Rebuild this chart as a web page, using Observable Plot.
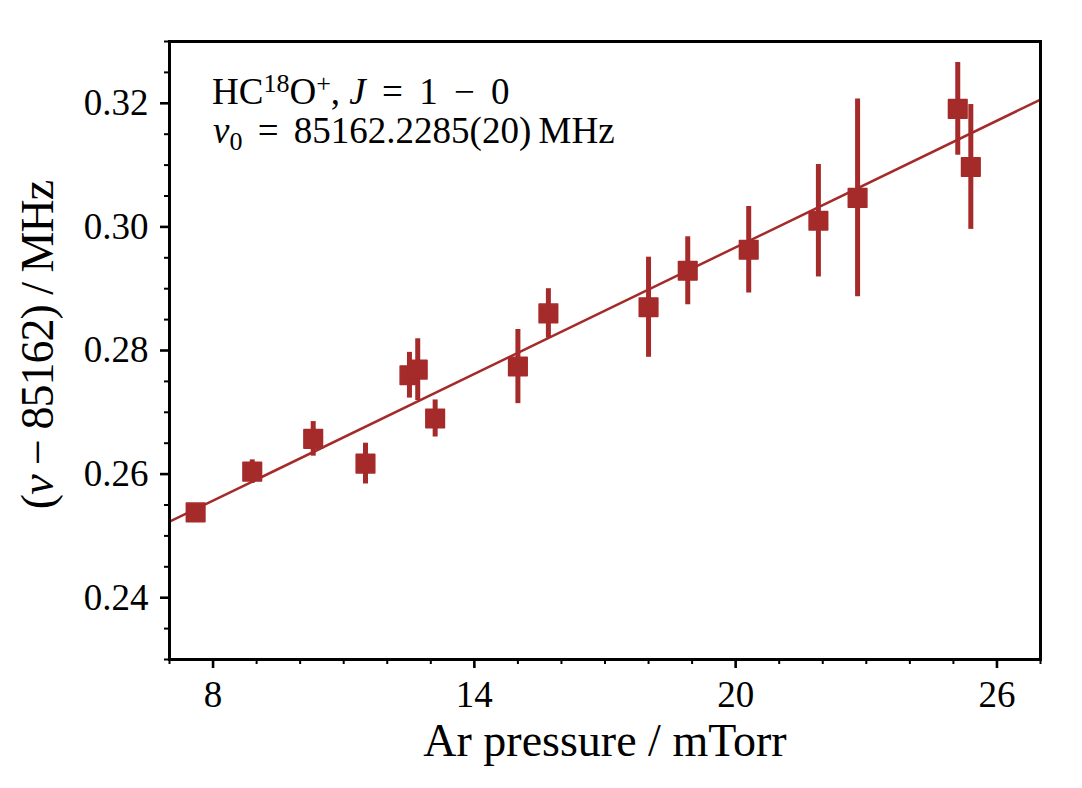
<!DOCTYPE html>
<html>
<head>
<meta charset="utf-8">
<script src="https://cdn.jsdelivr.net/npm/d3@7"></script>
<script src="https://cdn.jsdelivr.net/npm/@observablehq/plot@0.6"></script>
<style>
  html, body { margin: 0; padding: 0; background: white; }
</style>
</head>
<body>
<div id="chart"></div>
<script>
// Data
const pressure = [7.60, 8.90, 10.30, 11.50, 12.51, 12.70, 13.10, 15.00, 15.70, 18.00, 18.90, 20.30, 21.90, 22.80, 25.10, 25.40];
const shift    = [0.2538, 0.2604, 0.2657, 0.2617, 0.2760, 0.2769, 0.2690, 0.2774, 0.2860, 0.2870, 0.2929, 0.2963, 0.3010, 0.3047, 0.3191, 0.3097];
const err      = [0.0012, 0.0019, 0.0028, 0.0033, 0.0037, 0.0050, 0.0030, 0.0060, 0.0040, 0.0081, 0.0055, 0.0070, 0.0091, 0.0160, 0.0075, 0.0101];

// Fitted line endpoints (read at the frame edges)
const fitX = [7, 27];
const fitY = [0.2523, 0.3206];

// Ticks
const xMajor = [8, 14, 20, 26];
const xMinor = [7, 9, 10, 11, 12, 13, 15, 16, 17, 18, 19, 21, 22, 23, 24, 25, 27];
const yMajor = [0.24, 0.26, 0.28, 0.30, 0.32];
const yMinor = [0.23, 0.235, 0.245, 0.25, 0.255, 0.265, 0.27, 0.275, 0.285, 0.29, 0.295, 0.305, 0.31, 0.315, 0.325, 0.33];

const points = pressure.map((p, i) => ({p, v: shift[i], lo: shift[i] - err[i], hi: shift[i] + err[i]}));
const fit = fitX.map((x, i) => ({x, y: fitY[i]}));

const color = "#a52a2a";
const font = "Liberation Serif, Times New Roman, serif";

const chart = Plot.plot({
  width: 1082,
  height: 788,
  marginLeft: 169,
  marginRight: 42,
  marginTop: 41,
  marginBottom: 129,
  style: {fontFamily: font, color: "black", background: "white", overflow: "visible"},
  x: {domain: [7, 27], label: null},
  y: {domain: [0.23, 0.33], label: null},
  marks: [
    Plot.line(fit, {x: "x", y: "y", stroke: color, strokeWidth: 2.5, clip: true}),
    Plot.ruleX(points, {x: "p", y1: "lo", y2: "hi", stroke: color, strokeWidth: 5}),
    Plot.dot(points, {x: "p", y: "v", symbol: "square", r: 10.5, fill: color, stroke: color, strokeWidth: 1.5, strokeLinejoin: "round"}),
    Plot.axisX(xMinor, {tickSize: 5, tickFormat: () => "", strokeWidth: 2, label: null}),
    Plot.axisX(xMajor, {tickSize: 9, tickPadding: 12, fontSize: 37, strokeWidth: 2.6, tickFormat: d => String(d), label: null}),
    Plot.axisY(yMinor, {tickSize: 5, tickFormat: () => "", strokeWidth: 2, label: null}),
    Plot.axisY(yMajor, {tickSize: 9, tickPadding: 12, fontSize: 37, strokeWidth: 2.6, tickFormat: d3.format(".2f"), label: null}),
    Plot.frame({stroke: "black", strokeWidth: 3})
  ]
});

document.getElementById("chart").appendChild(chart);

const svg = d3.select(chart);
const g = svg.append("g").attr("font-family", font).attr("fill", "black").attr("text-anchor", "start");

// Annotation line 1: HC18O+, J = 1 − 0
const t1 = g.append("text").attr("x", 212).attr("y", 104).attr("font-size", 37).attr("text-anchor", "start");
t1.append("tspan").text("HC");
t1.append("tspan").attr("font-size", 26).attr("dy", -12).text("18");
t1.append("tspan").attr("dy", 12).text("O");
t1.append("tspan").attr("font-size", 26).attr("dy", -12).text("+");
t1.append("tspan").attr("dy", 12).text(", ");
t1.append("tspan").attr("font-style", "italic").text("J");
t1.append("tspan").attr("dx", 7).text(" =");
t1.append("tspan").attr("dx", 7).text(" 1");
t1.append("tspan").attr("dx", 7).text(" −");
t1.append("tspan").attr("dx", 7).text(" 0");

// Annotation line 2: ν0 = 85162.2285(20) MHz
const t2 = g.append("text").attr("x", 213).attr("y", 143).attr("font-size", 37).attr("text-anchor", "start");
t2.append("tspan").attr("font-style", "italic").text("ν");
t2.append("tspan").attr("font-size", 26).attr("dy", 7).text("0");
t2.append("tspan").attr("dy", -7).attr("dx", 6).text(" =");
t2.append("tspan").attr("dx", 6).text(" 85162.2285(20)\u2009MHz");

// Axis labels
g.append("text")
  .attr("x", 605).attr("y", 756)
  .attr("text-anchor", "middle").attr("font-size", 46)
  .text("Ar pressure / mTorr");

const yl = g.append("text")
  .attr("transform", "translate(53,345) rotate(-90)")
  .attr("text-anchor", "middle").attr("font-size", 46)
  .attr("letter-spacing", -1);
yl.append("tspan").text("(");
yl.append("tspan").attr("font-style", "italic").text("ν");
yl.append("tspan").text(" − 85162) / MHz");
</script>
</body>
</html>
